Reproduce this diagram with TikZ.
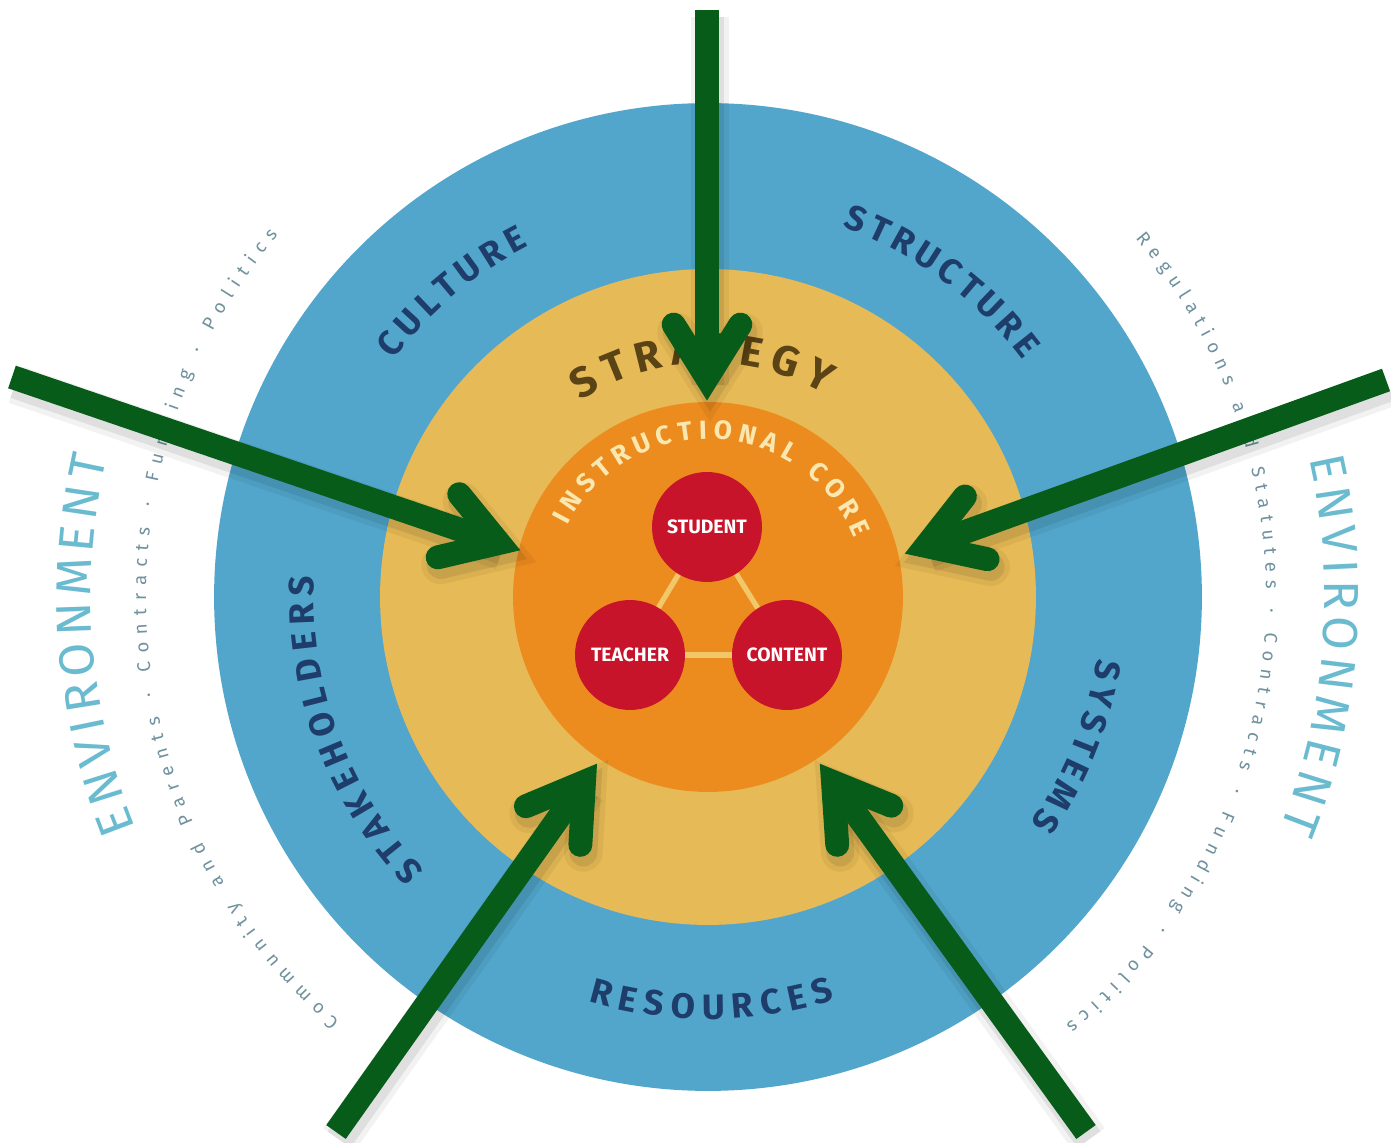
\documentclass[tikz,border=0pt]{standalone}
\usepackage{fontspec}
\setmainfont{Fira Sans}
\usetikzlibrary{calc,decorations.text}
\definecolor{ringblue}{HTML}{52A6CC}
\definecolor{stratyellow}{HTML}{E6BA56}
\definecolor{coreorange}{HTML}{EC8C1E}
\definecolor{nodered}{HTML}{C8142A}
\definecolor{navytext}{HTML}{1E3D6B}
\definecolor{strattext}{HTML}{5A4315}
\definecolor{coretext}{HTML}{FBE7B0}
\definecolor{envtext}{HTML}{6BBBD0}
\definecolor{envsmall}{HTML}{6F929E}
\definecolor{arrowgreen}{HTML}{065C18}
\definecolor{linkyellow}{HTML}{F2C76A}
\newcommand{\ringfmt}{\fontsize{20pt}{20pt}\selectfont\bfseries\color{navytext}}
\newcommand{\stratfmt}{\fontsize{24pt}{24pt}\selectfont\bfseries\color{strattext}}
\newcommand{\corefmt}{\fontsize{15pt}{15pt}\selectfont\bfseries\color{coretext}}
\newcommand{\envfmt}{\fontsize{28pt}{28pt}\selectfont\color{envtext}}
\newcommand{\envsmallfmt}{\fontsize{10.5pt}{10.5pt}\selectfont\color{envsmall}}
% #1 format, #2 text, #3 start angle, #4 end angle, #5 radius
\newcommand{\ringlabel}[5]{%
  \path[decorate, decoration={text along path, text={|#1|#2}, text align={fit to path}}]
    (#3:#5) arc[start angle=#3, end angle=#4, radius=#5];}
% #1 style, #2 start coordinate, #3 tip coordinate
\newcommand{\greenarrow}[3]{%
  \draw[#1, line cap=butt] (#2) -- (#3);
  \draw[#1, line cap=round, line join=miter]
    ($(#3)!1.26cm!32:(#2)$) -- (#3) -- ($(#3)!1.26cm!-32:(#2)$);}
\begin{document}
\begin{tikzpicture}[x=0.02cm, y=0.02cm,
  ring/.style={circle, inner sep=0pt, draw=none},
  rednode/.style={circle, fill=nodered, minimum size=2.2cm, inner sep=0pt,
    text=white, font=\fontsize{11pt}{11pt}\selectfont\bfseries},
  linkline/.style={draw=linkyellow, line width=3pt},
  arrowmain/.style={draw=arrowgreen, line width=13.6pt},
  arrowshadeA/.style={draw=black, opacity=0.05, line width=22pt},
  arrowshadeB/.style={draw=black, opacity=0.08, line width=16pt}]
\useasboundingbox (-708,-545) rectangle (683,597);
\fill[white] (-708,-545) rectangle (683,597);

% rings
\node[ring, fill=ringblue, minimum size=19.76cm] (outer) at (0,0) {};
\node[ring, fill=stratyellow, minimum size=13.12cm] (strategy) at (0,0) {};
\node[ring, fill=coreorange, minimum size=7.8cm] (core) at (0,0) {};

% ring labels
\ringlabel{\ringfmt}{CULTURE}{143}{117}{394}
\ringlabel{\ringfmt}{STRUCTURE}{70}{37}{394}
\ringlabel{\ringfmt}{STAKEHOLDERS}{224}{177}{394}
\ringlabel{\ringfmt}{SYSTEMS}{-9}{-35}{394}
\ringlabel{\ringfmt}{RESOURCES}{253.5}{287.5}{422}
\ringlabel{\stratfmt}{STRATEGY}{123}{60}{234}
\ringlabel{\corefmt}{INSTRUCTIONAL CORE}{153}{22}{158}

% environment
\ringlabel{\envfmt}{ENVIRONMENT}{202}{167}{617}
\ringlabel{\envfmt}{ENVIRONMENT}{13}{-22}{617}
\ringlabel{\envsmallfmt}{Community and Parents · Contracts · Funding · Politics}{229}{140}{562}
\ringlabel{\envsmallfmt}{Regulations and Statutes · Contracts · Funding · Politics}{40}{-50}{558}

% instructional core triangle
\node[rednode] (student) at (-1,70) {STUDENT};
\node[rednode] (teacher) at (-78,-58) {TEACHER};
\node[rednode] (content) at (79,-58) {CONTENT};
\draw[linkline] (student) -- (teacher);
\draw[linkline] (student) -- (content);
\draw[linkline] (teacher) -- (content);

% arrow coordinates
\coordinate (topS) at (-1,587);
\coordinate (topT) at (-1,219);
\coordinate (leftS) at (-696,220);
\coordinate (leftT) at (-209,54);
\coordinate (rightS) at (678,217);
\coordinate (rightT) at (218,51);
\coordinate (blS) at (-372,-535);
\coordinate (blT) at (-124,-185);
\coordinate (brS) at (378,-535);
\coordinate (brT) at (125,-185);

% shadows
\begin{scope}[transform canvas={shift={(0.06cm,-0.15cm)}}]
  \greenarrow{arrowshadeA}{topS}{topT}
  \greenarrow{arrowshadeA}{leftS}{leftT}
  \greenarrow{arrowshadeA}{rightS}{rightT}
  \greenarrow{arrowshadeA}{blS}{blT}
  \greenarrow{arrowshadeA}{brS}{brT}
  \greenarrow{arrowshadeB}{topS}{topT}
  \greenarrow{arrowshadeB}{leftS}{leftT}
  \greenarrow{arrowshadeB}{rightS}{rightT}
  \greenarrow{arrowshadeB}{blS}{blT}
  \greenarrow{arrowshadeB}{brS}{brT}
\end{scope}

% arrows
\greenarrow{arrowmain}{topS}{topT}
\greenarrow{arrowmain}{leftS}{leftT}
\greenarrow{arrowmain}{rightS}{rightT}
\greenarrow{arrowmain}{blS}{blT}
\greenarrow{arrowmain}{brS}{brT}
\end{tikzpicture}
\end{document}
